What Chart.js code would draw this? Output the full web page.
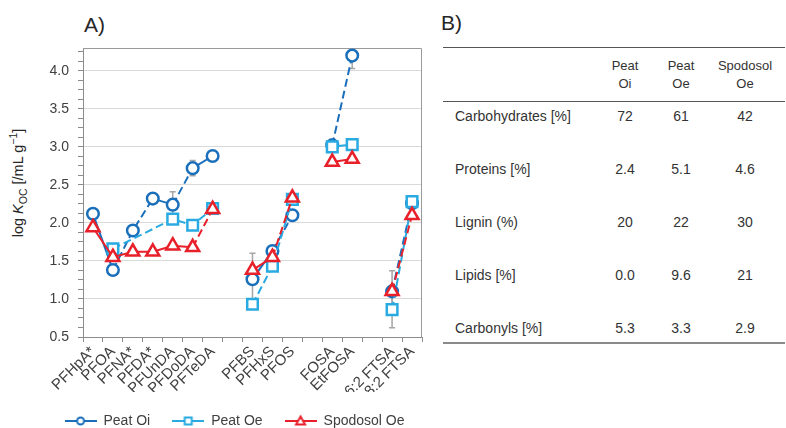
<!DOCTYPE html>
<html>
<head>
<meta charset="utf-8">
<script src="https://cdn.jsdelivr.net/npm/chart.js@4.4.1/dist/chart.umd.min.js"></script>
<style>
  body { margin: 0; background: #fff; font-family: "Liberation Sans", Arial, sans-serif; color: #404040; }
  #wrap { position: relative; width: 786px; height: 428px; overflow: hidden; }
  #chartBox { position: absolute; left: 0; top: 0; width: 432px; height: 428px; }
  .panel { position: absolute; font-size: 21px; color: #262626; }
  #ytitle { position: absolute; left: 18px; top: 183px; transform: translate(-50%, -50%) rotate(-90deg);
            white-space: nowrap; font-size: 14.5px; color: #262626; }
  #ytitle sub, #ytitle sup { font-size: 10.5px; }
  #comp { position: absolute; left: 443px; top: 47px; width: 342px; border-collapse: collapse;
          table-layout: fixed; font-size: 14px; color: #333; }
  #comp td, #comp th { padding: 0; font-weight: normal; text-align: center; vertical-align: top; }
  #comp th { font-size: 13px; line-height: 18px; padding-top: 9px; height: 44px; }
  #comp thead tr { border-top: 1px solid #555; border-bottom: 1px solid #555; }
  #comp tbody tr { height: 53px; }
  #comp tbody tr:last-child { height: 29px; border-bottom: 2px solid #8a8a8a; }
  #comp td { padding-top: 6px; line-height: 16px; }
  #comp td.lbl { text-align: left; padding-left: 12px; }
  #comp .last { padding-right: 5px; }
</style>
</head>
<body>
<div id="wrap">
  <div class="panel" style="left:84px; top:13px;">A)</div>
  <div class="panel" style="left:441px; top:11px;">B)</div>
  <div id="ytitle">log <i>K</i><sub>OC</sub> [/mL g<sup>&minus;1</sup>]</div>
  <div id="chartBox"><canvas id="mycanvas"></canvas></div>
  <table id="comp">
    <colgroup><col style="width:155px"><col style="width:54px"><col style="width:58px"><col style="width:75px"></colgroup>
    <thead><tr id="compHead"></tr></thead>
    <tbody id="compBody"></tbody>
  </table>
</div>
<script>
// chart data (empty categories are the gaps between compound groups)
var categories = ['PFHpA*', 'PFOA', 'PFNA*', 'PFDA*', 'PFUnDA', 'PFDoDA', 'PFTeDA', '',
                  'PFBS', 'PFHxS', 'PFOS', '', 'FOSA', 'EtFOSA', '', '6:2 FTSA', '8:2 FTSA'];
var gapIndex = [7, 11, 14];

var peatOi    = [2.12, 1.38, 1.90, 2.32, 2.24, 2.72, 2.88, null, 1.26, 1.63, 2.10, null, 3.02, 4.20, null, 1.10, 2.26];
var peatOiErr = [0.03, 0.03, 0.03, 0.03, 0.17, 0.10, 0.03, null, 0.34, 0.04, 0.04, null, 0.08, 0.17, null, 0.27, 0.03];
var peatOe    = [null, 1.66, null, null, 2.05, 1.97, 2.19, null, 0.93, 1.43, 2.31, null, 3.00, 3.03, null, 0.86, 2.28];
var peatOeErr = [null, 0.06, null, null, 0.04, 0.04, 0.03, null, 0.03, 0.04, 0.03, null, 0.03, 0.04, null, 0.24, 0.03];
var spodOe    = [1.94, 1.55, 1.62, 1.62, 1.70, 1.68, 2.18, null, 1.38, 1.55, 2.33, null, 2.80, 2.84, null, 1.10, 2.10];
var spodOeErr = [0.03, 0.03, 0.03, 0.03, 0.03, 0.03, 0.03, null, 0.03, 0.03, 0.03, null, 0.03, 0.03, null, 0.03, 0.03];

var yMin = 0.5, yMax = 4.3, yMinorStep = 0.125;

// table B
var compCols = [['Peat', 'Oi'], ['Peat', 'Oe'], ['Spodosol', 'Oe']];
var compRows = ['Carbohydrates [%]', 'Proteins [%]', 'Lignin (%)', 'Lipids [%]', 'Carbonyls [%]'];
var compPeatOi = ['72', '2.4', '20', '0.0', '5.3'];
var compPeatOe = ['61', '5.1', '22', '9.6', '3.3'];
var compSpodOe = ['42', '4.6', '30', '21', '2.9'];

// build table
var head = '<th></th>';
compCols.forEach(function(c, i) {
  head += '<th' + (i == 2 ? ' class="last"' : '') + '>' + c[0] + '<br>' + c[1] + '</th>';
});
document.getElementById('compHead').innerHTML = head;
var body = '';
compRows.forEach(function(r, i) {
  body += '<tr><td class="lbl">' + r + '</td><td>' + compPeatOi[i] + '</td><td>' + compPeatOe[i] +
          '</td><td class="last">' + compSpodOe[i] + '</td></tr>';
});
document.getElementById('compBody').innerHTML = body;

var cOi = '#1a6fbb', cOe = '#29abe2', cSp = '#e8202a';

// segments: hide the ones touching a gap, solid where listed, dashed otherwise
function segStyle(solid) {
  return {
    borderColor: function(ctx) {
      var a = ctx.p0DataIndex, b = ctx.p1DataIndex;
      return (gapIndex.indexOf(a) >= 0 || gapIndex.indexOf(b) >= 0) ? 'rgba(0,0,0,0)' : undefined;
    },
    borderDash: function(ctx) { return solid.indexOf(ctx.p0DataIndex) >= 0 ? [] : [8, 4]; }
  };
}

function legendIcon(color, style) {
  var c = document.createElement('canvas');
  c.width = 32; c.height = 14;
  var g = c.getContext('2d');
  g.strokeStyle = color; g.lineWidth = 2;
  g.beginPath(); g.moveTo(0, 7); g.lineTo(32, 7); g.stroke();
  g.fillStyle = '#fff'; g.lineWidth = 2;
  g.beginPath();
  if (style == 'circle') g.arc(16, 7, 3.5, 0, Math.PI * 2);
  else if (style == 'rect') g.rect(12.5, 3.5, 7, 7);
  else { g.moveTo(16, 2.5); g.lineTo(20.5, 10.5); g.lineTo(11.5, 10.5); g.closePath(); }
  g.fill(); g.stroke();
  return c;
}

var errorBars = {
  id: 'errorBars',
  beforeDatasetsDraw: function(chart) {
    var ctx = chart.ctx, x = chart.scales.x, y = chart.scales.y, a = chart.chartArea;
    ctx.save();
    ctx.beginPath();
    ctx.rect(a.left, a.top, a.right - a.left, a.bottom - a.top);
    ctx.clip();
    ctx.strokeStyle = '#a6a6a6';
    ctx.lineWidth = 1.5;
    chart.data.datasets.forEach(function(ds) {
      ds.data.forEach(function(v, i) {
        var e = ds.errors[i];
        if (v == null || !e) return;
        var px = x.getPixelForValue(i), top = y.getPixelForValue(v + e), bot = y.getPixelForValue(v - e);
        ctx.beginPath();
        ctx.moveTo(px, top); ctx.lineTo(px, bot);
        ctx.moveTo(px - 3, top); ctx.lineTo(px + 3, top);
        ctx.moveTo(px - 3, bot); ctx.lineTo(px + 3, bot);
        ctx.stroke();
      });
    });
    ctx.restore();
  }
};

var plotBorder = {
  id: 'plotBorder',
  beforeDatasetsDraw: function(chart) {
    var a = chart.chartArea, ctx = chart.ctx;
    ctx.save();
    ctx.strokeStyle = '#9a9a9a';
    ctx.lineWidth = 1;
    ctx.beginPath();
    ctx.moveTo(a.left, a.top + 0.5); ctx.lineTo(a.right - 0.5, a.top + 0.5); ctx.lineTo(a.right - 0.5, a.bottom);
    ctx.stroke();
    ctx.restore();
  }
};

function isMajor(v) { return Math.abs(v * 2 - Math.round(v * 2)) < 1e-6; }

var chartdata = {
  labels: categories,
  datasets: [
    {
      label: 'Peat Oi', data: peatOi, errors: peatOiErr, order: 3,
      borderColor: cOi, pointBorderColor: cOi, pointBackgroundColor: '#fff',
      pointStyle: 'circle', pointRadius: 5.8, pointBorderWidth: 2.5, borderWidth: 2,
      spanGaps: true, segment: segStyle([0, 3, 5, 8]), icon: legendIcon(cOi, 'circle')
    },
    {
      label: 'Peat Oe', data: peatOe, errors: peatOeErr, order: 2,
      borderColor: cOe, pointBorderColor: cOe, pointBackgroundColor: '#fff',
      pointStyle: 'rect', pointRadius: 7.5, pointBorderWidth: 2.5, borderWidth: 2,
      spanGaps: true, segment: segStyle([12]), icon: legendIcon(cOe, 'rect')
    },
    {
      label: 'Spodosol Oe', data: spodOe, errors: spodOeErr, order: 1,
      borderColor: cSp, pointBorderColor: cSp, pointBackgroundColor: '#fff',
      pointStyle: 'triangle', pointRadius: 7.5, pointBorderWidth: 2.5, borderWidth: 2,
      spanGaps: true, segment: segStyle([0, 1, 2, 3, 4, 8, 12]), icon: legendIcon(cSp, 'triangle')
    }
  ]
};

Chart.defaults.font.family = '"Liberation Sans", Arial, sans-serif';
Chart.defaults.font.size = 14;
Chart.defaults.color = '#404040';

var lineChart = new Chart(document.getElementById('mycanvas'), {
  type: 'line',
  data: chartdata,
  plugins: [errorBars, plotBorder],
  options: {
    responsive: true,
    maintainAspectRatio: false,
    animation: false,
    layout: { padding: { left: 40, right: 3, top: 48, bottom: -10 } },
    plugins: {
      tooltip: { enabled: false },
      legend: {
        position: 'bottom',
        labels: {
          usePointStyle: true,
          pointStyleWidth: 32,
          padding: 22,
          color: '#404040',
          font: { size: 14 },
          generateLabels: function(chart) {
            return chart.data.datasets.map(function(ds, i) {
              return { text: ds.label, pointStyle: ds.icon, datasetIndex: i, hidden: false,
                       fillStyle: '#fff', strokeStyle: ds.borderColor, lineWidth: 0, fontColor: '#404040' };
            });
          }
        }
      }
    },
    scales: {
      x: {
        offset: true,
        afterFit: function(s) { s.height = 438 - 337 - (s.chart.legend ? s.chart.legend.height : 46); },
        ticks: { autoSkip: false, minRotation: 45, maxRotation: 45, padding: 1, color: '#404040', font: { size: 15 } },
        grid: { offset: true, drawOnChartArea: false, tickLength: 5, tickColor: '#8c8c8c' },
        border: { color: '#8c8c8c' }
      },
      y: {
        min: yMin, max: yMax,
        afterFit: function(s) { s.width = 43; },
        ticks: {
          stepSize: yMinorStep, autoSkip: false, includeBounds: false, maxTicksLimit: 100,
          padding: 9, color: '#404040',
          callback: function(v) { return isMajor(v) ? v.toFixed(1) : ''; }
        },
        grid: {
          color: function(c) { return c.tick && isMajor(c.tick.value) ? '#d9d9d9' : 'rgba(0,0,0,0)'; },
          tickColor: '#8c8c8c', tickLength: 5
        },
        border: { color: '#8c8c8c' }
      }
    }
  }
});
</script>
</body>
</html>
